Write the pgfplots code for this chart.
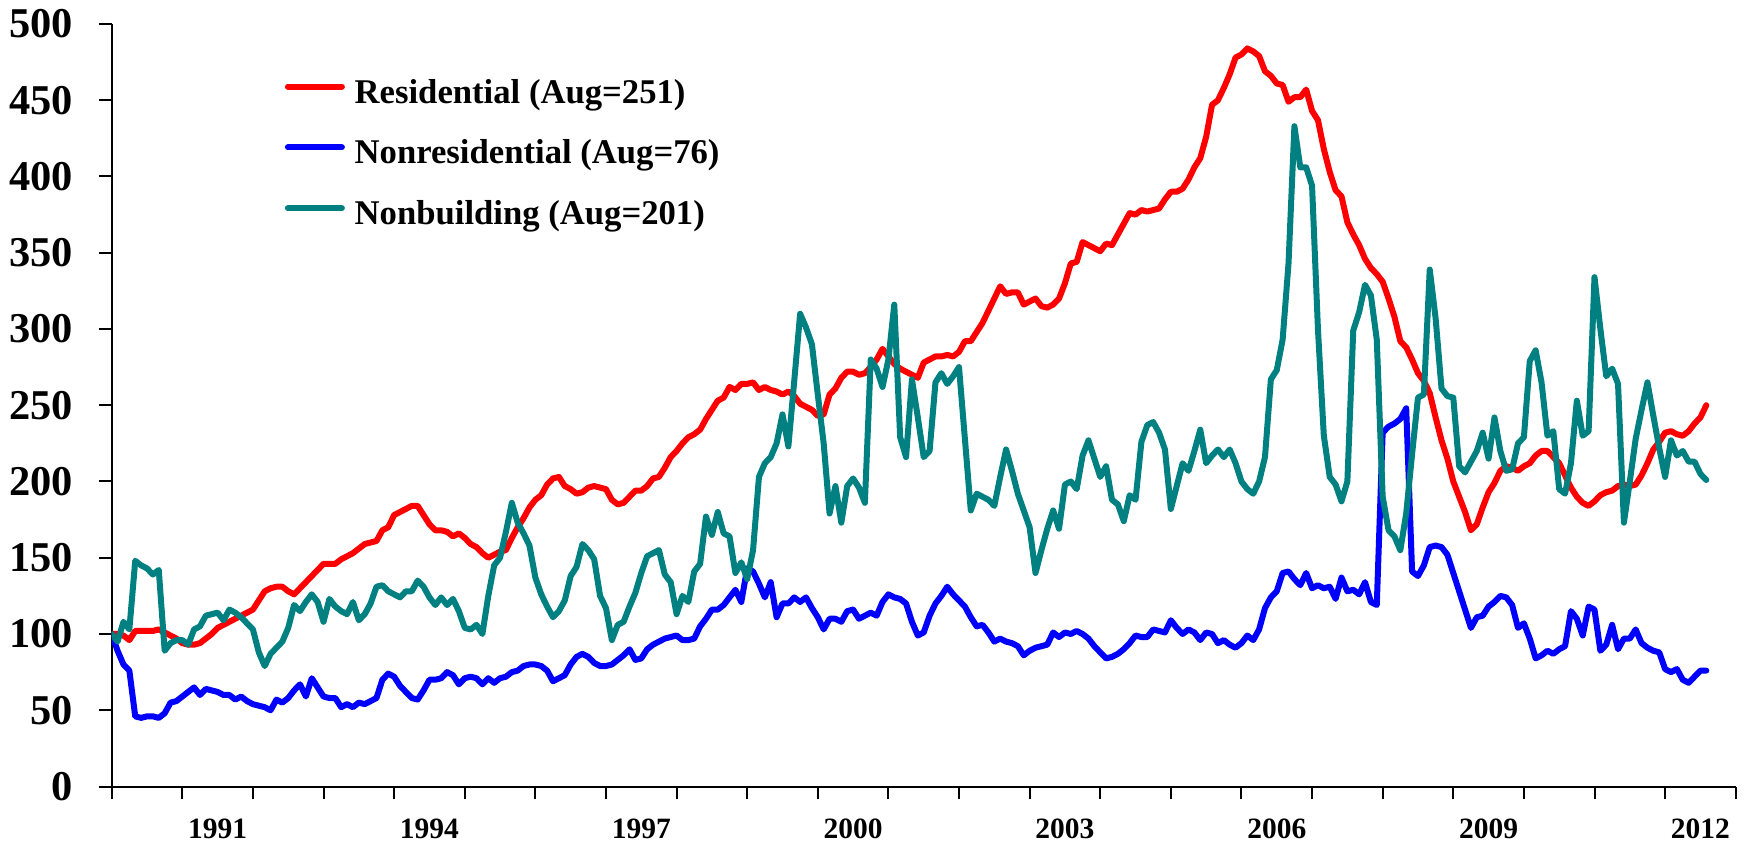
\documentclass[border=0pt]{standalone}
\usepackage{fontspec}
\setmainfont{Liberation Serif}
\usepackage{pgfplots}
\usepackage{pgfplotstable}
\pgfplotsset{compat=1.18}
\definecolor{cRes}{RGB}{255,0,0}
\definecolor{cNon}{RGB}{0,0,255}
\definecolor{cBld}{RGB}{0,128,128}
\pgfplotstableread{
m res non bld
0 100 100 100
1 100 89 95
2 99 80 108
3 96 76 103
4 102 46 148
5 102 45 145
6 102 46 143
7 102 46 139
8 103 45 142
9 101 48 89
10 99 55 94
11 97 56 96
12 94 59 96
13 93 62 93
14 93 65 103
15 94 60 105
16 97 64 112
17 100 63 113
18 104 62 114
19 106 60 109
20 108 60 116
21 110 57 114
22 112 59 111
23 114 56 107
24 116 54 103
25 122 53 88
26 128 52 79
27 130 50 87
28 131 57 91
29 131 55 95
30 128 58 104
31 126 63 119
32 130 67 115
33 134 59 121
34 138 71 126
35 142 65 121
36 146 59 108
37 146 58 123
38 146 58 118
39 149 52 115
40 151 54 113
41 153 52 121
42 156 55 109
43 159 54 113
44 160 56 120
45 161 58 131
46 168 70 132
47 170 74 128
48 178 72 126
49 180 66 124
50 182 62 128
51 184 58 128
52 184 57 135
53 178 63 131
54 172 70 124
55 168 70 119
56 168 71 124
57 167 75 119
58 164 73 123
59 166 67 115
60 163 71 104
61 159 72 103
62 157 71 106
63 153 67 100
64 150 71 125
65 152 68 145
66 154 71 150
67 155 72 167
68 163 75 186
69 170 76 173
70 176 79 166
71 183 80 158
72 188 80 137
73 191 79 126
74 198 76 118
75 202 69 111
76 203 71 115
77 197 73 122
78 195 80 138
79 192 85 144
80 193 87 159
81 196 85 155
82 197 81 149
83 196 79 125
84 195 79 117
85 188 80 96
86 185 83 106
87 186 86 108
88 190 90 118
89 194 83 127
90 194 84 140
91 197 90 151
92 202 93 153
93 203 95 155
94 209 97 139
95 216 98 134
96 220 99 113
97 225 96 125
98 229 96 121
99 231 97 141
100 234 105 146
101 241 110 177
102 247 116 165
103 253 116 180
104 255 119 166
105 262 124 164
106 260 129 140
107 264 121 147
108 264 143 136
109 265 141 155
110 260 133 203
111 262 124 212
112 260 134 216
113 259 111 225
114 257 120 244
115 259 120 223
116 256 124 266
117 251 121 310
118 249 124 301
119 247 117 290
120 243 111 257
121 244 103 225
122 257 110 179
123 261 110 197
124 268 108 173
125 272 115 197
126 272 116 202
127 270 110 196
128 271 112 186
129 275 114 280
130 280 112 274
131 287 121 262
132 282 126 280
133 277 124 316
134 274 123 229
135 272 120 216
136 270 108 267
137 268 99 242
138 278 101 216
139 280 112 220
140 282 120 265
141 282 125 271
142 283 131 264
143 282 126 269
144 285 122 275
145 292 118 228
146 292 111 181
147 298 105 192
148 304 106 190
149 312 101 188
150 320 95 184
151 328 97 203
152 323 95 221
153 324 94 207
154 324 92 192
155 316 86 181
156 318 89 170
157 320 91 140
158 315 92 155
159 314 93 169
160 316 101 181
161 320 98 169
162 330 101 198
163 343 100 200
164 344 102 195
165 357 100 217
166 355 97 227
167 353 92 215
168 351 88 203
169 356 84 210
170 355 85 188
171 362 87 185
172 369 90 174
173 376 94 191
174 375 99 188
175 378 98 226
176 377 98 237
177 378 103 239
178 379 102 232
179 385 101 221
180 390 109 182
181 390 104 197
182 392 100 212
183 398 103 207
184 406 101 220
185 412 96 234
186 426 101 212
187 447 100 217
188 450 94 221
189 458 96 216
190 467 93 221
191 478 91 212
192 480 94 200
193 484 99 195
194 482 96 192
195 479 103 200
196 469 117 216
197 466 124 267
198 461 128 273
199 460 140 293
200 449 141 343
201 452 136 433
202 452 132 406
203 457 140 406
204 443 130 394
205 437 132 300
206 418 130 230
207 403 131 203
208 391 123 198
209 387 137 187
210 370 128 200
211 362 129 299
212 355 126 311
213 346 134 329
214 340 121 322
215 336 119 293
216 331 232 190
217 320 236 168
218 308 238 164
219 292 241 155
220 288 248 179
221 280 141 218
222 271 138 255
223 266 145 257
224 258 157 339
225 242 158 307
226 227 157 261
227 215 152 256
228 200 140 255
229 190 128 210
230 180 116 206
231 168 104 213
232 172 111 220
233 183 112 232
234 193 118 215
235 199 121 242
236 207 125 220
237 210 124 207
238 209 119 208
239 207 104 225
240 210 107 229
241 212 97 279
242 217 84 286
243 220 86 265
244 220 89 230
245 216 87 233
246 212 90 195
247 204 92 192
248 196 115 212
249 190 110 253
250 186 99 230
251 184 118 233
252 187 116 334
253 191 89 300
254 193 93 269
255 194 106 274
256 197 90 264
257 198 97 173
258 197 97 200
259 198 103 228
260 204 94 247
261 212 91 265
262 221 89 243
263 226 88 222
264 232 77 203
265 233 75 227
266 231 77 217
267 230 70 220
268 233 68 213
269 238 72 213
270 242 76 205
271 250 76 201
}\datatable
\begin{document}
\begin{tikzpicture}
\path[use as bounding box] (-55.85bp,-29.25bp) rectangle (817.65bp,393.25bp);
\begin{axis}[
  at={(0,0)}, anchor=south west,
  scale only axis, width=812bp, height=381.25bp,
  xmin=0, xmax=276, ymin=0, ymax=500,
  axis lines=left,
  axis line style={-, line width=1bp, black},
  tick align=outside,
  tick style={line width=1bp, black},
  major tick length=6.5bp, minor tick length=6.5bp,
  ytick={0,50,...,500},
  xtick={18,54,90,126,162,198,234,270},
  xticklabels={1991,1994,1997,2000,2003,2006,2009,2012},
  major x tick style={draw=none},
  minor xtick={0,12,...,276},
  /pgf/number format/assume math mode=true,
  yticklabel style={font=\fontsize{21.3}{22}\selectfont\bfseries, anchor=east, inner sep=0pt, xshift=-12.8bp},
  xticklabel style={font=\fontsize{14.8}{16}\selectfont\bfseries, anchor=north, inner sep=0pt, yshift=-9.3bp},
  legend cell align=left,
  legend style={draw=none, fill=none, inner sep=0pt, column sep=4.9bp, row sep=14.9bp,
    at={(axis description cs:0.1064,0.9282)}, anchor=north west,
    font=\fontsize{17.4}{18}\selectfont\bfseries,
    nodes={inner sep=0pt, text height=12bp, text depth=3.5bp}},
  legend image code/.code={\draw[#1] (0bp,4bp) -- (27bp,4bp);},
  every axis plot/.append style={line width=3bp, line join=round, line cap=round},
]
\addplot[cRes] table[x=m, y=res] {\datatable};
\addlegendentry{Residential (Aug=251)}
\addplot[cNon] table[x=m, y=non] {\datatable};
\addlegendentry{Nonresidential (Aug=76)}
\addplot[cBld] table[x=m, y=bld] {\datatable};
\addlegendentry{Nonbuilding (Aug=201)}
\end{axis}
\end{tikzpicture}
\end{document}
